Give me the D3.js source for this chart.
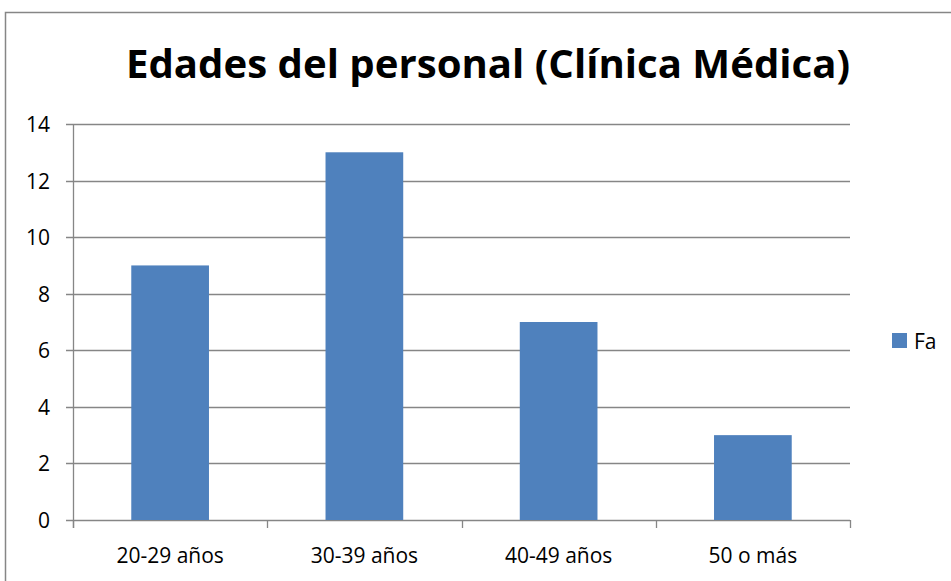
<!DOCTYPE html>
<html>
<head>
<meta charset="utf-8">
<script src="https://cdn.jsdelivr.net/npm/d3@7"></script>
<style>
  body { margin: 0; background: #fff; }
  svg { display: block; }
</style>
</head>
<body>
<svg id="chart"></svg>
<script>
// chart data
var categories = ['20-29 años', '30-39 años', '40-49 años', '50 o más'];
var values = [9, 13, 7, 3];
var yTicks = [0, 2, 4, 6, 8, 10, 12, 14];
var seriesName = 'Fa';
var title = 'Edades del personal (Clínica Médica)';

var width = 951, height = 581;
var font = '"Open Sans", "Liberation Sans", sans-serif';

var svg = d3.select('#chart')
	.attr('width', width)
	.attr('height', height);

svg.append('rect')
	.attr('width', width).attr('height', height)
	.attr('fill', '#fff');

// outer chart border (right/bottom are off the picture)
svg.append('rect')
	.attr('x', 5.5).attr('y', 12.5)
	.attr('width', 1000).attr('height', 1000)
	.attr('fill', 'none')
	.attr('stroke', '#868686')
	.attr('stroke-width', 1.5);

var plot = {left: 73, right: 850, top: 124, bottom: 520};

var x = d3.scaleBand()
	.domain(categories)
	.range([plot.left, plot.right])
	.paddingInner(0.6)
	.paddingOuter(0.3);

// band scale without padding for tick positions
var xb = d3.scaleBand()
	.domain(categories)
	.range([plot.left, plot.right]);

var y = d3.scaleLinear()
	.domain([0, 14])
	.range([plot.bottom, plot.top]);

// gridlines
svg.append('g')
	.selectAll('line')
	.data(yTicks)
	.enter()
	.append('line')
	.attr('x1', plot.left - 7)
	.attr('x2', plot.right)
	.attr('y1', function(d) { return Math.round(y(d)) + 0.5; })
	.attr('y2', function(d) { return Math.round(y(d)) + 0.5; })
	.attr('stroke', '#868686')
	.attr('stroke-width', 1.3);

// y axis line
svg.append('line')
	.attr('x1', plot.left + 0.5).attr('x2', plot.left + 0.5)
	.attr('y1', plot.top).attr('y2', plot.bottom + 8)
	.attr('stroke', '#868686')
	.attr('stroke-width', 1.3);

// category ticks below the x axis
var xTickPos = categories.map(function(c) { return xb(c); }).concat([plot.right]);
svg.append('g')
	.selectAll('line')
	.data(xTickPos)
	.enter()
	.append('line')
	.attr('x1', function(d) { return Math.round(d) + 0.5; })
	.attr('x2', function(d) { return Math.round(d) + 0.5; })
	.attr('y1', plot.bottom)
	.attr('y2', plot.bottom + 8)
	.attr('stroke', '#868686')
	.attr('stroke-width', 1.3);

// bars
svg.append('g')
	.selectAll('rect')
	.data(values)
	.enter()
	.append('rect')
	.attr('x', function(d, i) { return x(categories[i]); })
	.attr('y', function(d) { return y(d); })
	.attr('width', x.bandwidth())
	.attr('height', function(d) { return plot.bottom - y(d); })
	.attr('fill', '#4F81BD');

// y tick labels
svg.append('g')
	.selectAll('text')
	.data(yTicks)
	.enter()
	.append('text')
	.attr('x', 50)
	.attr('y', function(d) { return y(d) + 8; })
	.attr('text-anchor', 'end')
	.attr('font-family', font)
	.attr('font-size', 21)
	.attr('fill', '#000')
	.text(function(d) { return d; });

// x labels
svg.append('g')
	.selectAll('text')
	.data(categories)
	.enter()
	.append('text')
	.attr('x', function(d) { return xb(d) + xb.bandwidth() / 2; })
	.attr('y', 563)
	.attr('text-anchor', 'middle')
	.attr('font-family', font)
	.attr('font-size', 21)
	.attr('fill', '#000')
	.text(function(d) { return d; });

// title
svg.append('text')
	.attr('x', 126)
	.attr('y', 78)
	.attr('font-family', font)
	.attr('font-weight', 'bold')
	.attr('font-size', 40)
	.attr('textLength', 724)
	.attr('lengthAdjust', 'spacingAndGlyphs')
	.attr('fill', '#000')
	.text(title);

// legend
svg.append('rect')
	.attr('x', 892).attr('y', 333)
	.attr('width', 15).attr('height', 15)
	.attr('fill', '#4F81BD');
svg.append('text')
	.attr('x', 914)
	.attr('y', 349)
	.attr('font-family', font)
	.attr('font-size', 21)
	.attr('fill', '#000')
	.text(seriesName);
</script>
</body>
</html>
